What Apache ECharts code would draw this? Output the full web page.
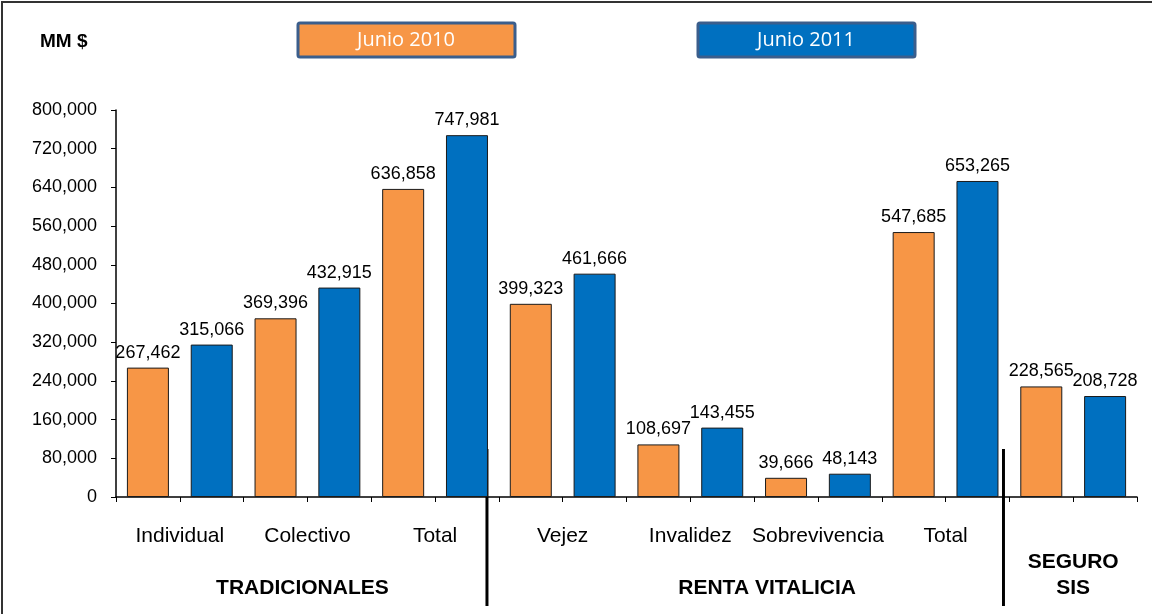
<!DOCTYPE html>
<html>
<head>
<meta charset="utf-8">
<script src="https://cdn.jsdelivr.net/npm/echarts@6/dist/echarts.min.js"></script>
<style>
	html, body { margin: 0; padding: 0; background: #fff; }
	#chart { width: 1152px; height: 614px; }
</style>
</head>
<body>
<div id="chart"></div>
<script>
// datos del grafico (MM $)
var categories = ['Individual', 'Colectivo', 'Total', 'Vejez', 'Invalidez', 'Sobrevivencia', 'Total', ''];
var groups = ['TRADICIONALES', 'RENTA VITALICIA', 'SEGURO\nSIS'];
var groupSize = [3, 4, 1];
var serNames = ['Junio 2010', 'Junio 2011'];
var jun2010 = [267462, 369396, 636858, 399323, 108697, 39666, 547685, 228565];
var jun2011 = [315066, 432915, 747981, 461666, 143455, 48143, 653265, 208728];
var yTicks = [0, 80000, 800000];

var ORANGE = '#F79646', BLUE = '#0070C0';
var FONT = '"Liberation Sans", Arial, sans-serif';

// cada barra ocupa su propio hueco en el eje
var slots = [], ser2010 = [], ser2011 = [];
for (var i = 0; i < categories.length; i++) {
	slots.push('a' + i, 'b' + i);
	ser2010.push(jun2010[i], null);
	ser2011.push(null, jun2011[i]);
}

function fmt(v) {
	return Number(v).toLocaleString('en-US');
}

var chart = echarts.init(document.getElementById('chart'));

var barLabel = {
	show: true,
	position: 'top',
	distance: 6,
	color: '#000',
	fontSize: 18,
	fontFamily: FONT,
	formatter: function (p) { return fmt(p.value); }
};

chart.setOption({
	backgroundColor: '#fff',
	animation: false,
	grid: { left: 116, top: 110, right: 15, bottom: 117 },
	xAxis: [
		{
			type: 'category',
			data: slots,
			axisLine: { lineStyle: { color: '#000', width: 1.5 } },
			axisTick: { show: true, length: 5, lineStyle: { color: '#000' } },
			axisLabel: { show: false },
			splitLine: { show: false }
		},
		{
			type: 'category',
			data: categories,
			position: 'bottom',
			offset: 29,
			axisLine: { show: false },
			axisTick: { show: false },
			axisLabel: { margin: 0, color: '#000', fontSize: 21, fontFamily: FONT, interval: 0 },
			splitLine: { show: false }
		}
	],
	yAxis: {
		type: 'value',
		min: yTicks[0],
		max: yTicks[2],
		interval: yTicks[1],
		axisLine: { show: true, lineStyle: { color: '#000', width: 1.5 } },
		axisTick: { show: true, length: 5, lineStyle: { color: '#000' } },
		axisLabel: { color: '#000', fontSize: 18, fontFamily: FONT, margin: 19, formatter: fmt },
		splitLine: { show: false }
	},
	series: [
		{
			name: serNames[0],
			type: 'bar',
			data: ser2010,
			barWidth: 42,
			barGap: '-100%',
			itemStyle: { color: ORANGE, borderColor: '#1a1a1a', borderWidth: 1 },
			label: barLabel
		},
		{
			name: serNames[1],
			type: 'bar',
			data: ser2011,
			barWidth: 42,
			barGap: '-100%',
			itemStyle: { color: BLUE, borderColor: '#1a1a1a', borderWidth: 1 },
			label: barLabel
		}
	]
});

// leyenda, titulos de grupo y separadores
function px(idx) {
	return chart.convertToPixel({ xAxisIndex: 0 }, idx);
}

var g = [];
// marco
g.push({ type: 'rect', shape: { x: 2, y: 2, width: 1170, height: 630 }, style: { fill: null, stroke: '#333', lineWidth: 2 }, silent: true });
// unidad
g.push({ type: 'text', left: 40, top: 32, style: { text: 'MM $', fill: '#000', font: 'bold 19px ' + FONT } });
// leyenda
var legX = [298, 698], legColor = [ORANGE, BLUE];
for (var k = 0; k < 2; k++) {
	g.push({ type: 'rect', shape: { x: legX[k], y: 23, width: 217, height: 34, r: 2 }, style: { fill: legColor[k], stroke: '#3B5E8C', lineWidth: 3 } });
	g.push({ type: 'text', x: legX[k] + 108, y: 40, style: { text: serNames[k], fill: '#fff', font: '20px "Open Sans", sans-serif', align: 'center', verticalAlign: 'middle' } });
}
// grupos
var start = 0, groupShift = [-5, 13, 0], groupY = [588, 588, 575];
for (var j = 0; j < groups.length; j++) {
	var end = start + groupSize[j] * 2 - 1;
	var cx = (px(start) + px(end)) / 2 + groupShift[j];
	g.push({ type: 'text', x: cx, y: groupY[j], style: { text: groups[j], fill: '#000', font: 'bold 21px ' + FONT, align: 'center', verticalAlign: 'middle', lineHeight: 26 } });
	start = end + 1;
}
// separadores
var sepIdx = [5, 13], sepShift = [20, 26];
for (var s = 0; s < sepIdx.length; s++) {
	var sx = px(sepIdx[s]) + sepShift[s];
	g.push({ type: 'line', shape: { x1: sx, y1: 449, x2: sx, y2: 606 }, style: { stroke: '#000', lineWidth: 3 } });
}
chart.setOption({ graphic: g });
window.onresize = chart.resize;
</script>
</body>
</html>
